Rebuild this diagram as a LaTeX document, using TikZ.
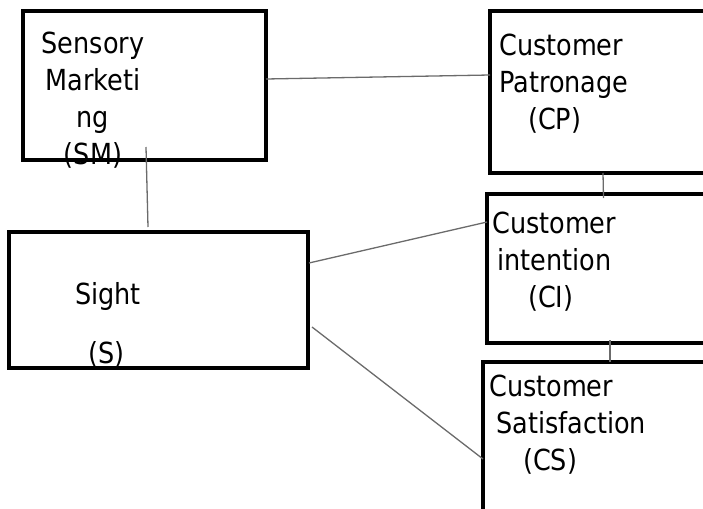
\documentclass[tikz,border=0pt]{standalone}
\usepackage{fontspec}
\setmainfont{DejaVu Sans}[FakeStretch=0.88]

\begin{document}
\begin{tikzpicture}
[x=1pt,y=-1pt,
  boxDecorate/.style={shape=rectangle,draw,line width=3.4pt,inner sep=0pt,outer sep=0pt,anchor=north west},%
  textDecorate/.style={inner sep=0pt,anchor=north west,align=left,font=\fontsize{29}{37}\selectfont},%
  lineDecorate/.style={-,draw=black!58,line width=1.3pt}]
\useasboundingbox (0,0) rectangle (703,508);
\clip (0,0) rectangle (703,508);
%%
%% boxes
\foreach \nodename/\x/\y/\w/\h in {
  sm/23/11/243/149, cp/490/11/230/162, ci/487/194/233/149,
  cs/483/362/237/168, s/9/232/299/136}
{
  \node (\nodename) at (\x,\y) [boxDecorate,minimum width=\w pt,minimum height=\h pt] {};
}
%% labels
\node (sm-text) at (93,32) [textDecorate,anchor=north,align=center] {Sensory\\Marketi\\ng\\(SM)};
\node (cp-text) at (499,34) [textDecorate] {Customer\\Patronage\\\hspace*{29pt}(CP)};
\node (ci-text) at (492,212) [textDecorate] {Customer\\\hspace*{5pt}intention\\\hspace*{36pt}(CI)};
\node (cs-text) at (489,375) [textDecorate] {Customer\\\hspace*{7pt}Satisfaction\\\hspace*{34pt}(CS)};
\node (s-text) at (75,282) [textDecorate] {Sight\\[22pt]\hspace*{13pt}(S)};
%%
%% line ends
\coordinate (sm-r) at ([yshift=6.5pt]sm.east);
\coordinate (sm-b) at ([xshift=1.5pt,yshift=13pt]sm.south);
\coordinate (cp-l) at ([yshift=17pt]cp.west);
\coordinate (cp-b) at ([xshift=-2pt]cp.south);
\coordinate (ci-t) at ([yshift=-4pt]ci.north);
\coordinate (ci-l) at ([yshift=46.5pt]ci.west);
\coordinate (ci-b) at ([xshift=6.5pt,yshift=3pt]ci.south);
\coordinate (cs-t) at ([xshift=8.5pt]cs.north);
\coordinate (cs-l) at ([yshift=-13pt]cs.west);
\coordinate (s-t) at ([xshift=-10.5pt,yshift=5pt]s.north);
\coordinate (s-r1) at ([xshift=1pt,yshift=37pt]s.east);
\coordinate (s-r2) at ([xshift=4pt,yshift=-27pt]s.east);
%% lines
\path
\foreach \startnode/\endnode in {sm-r/cp-l, sm-b/s-t, s-r1/ci-l, s-r2/cs-l, cp-b/ci-t, ci-b/cs-t}
{
  (\startnode) edge[lineDecorate] (\endnode)
};
\end{tikzpicture}
\end{document}
